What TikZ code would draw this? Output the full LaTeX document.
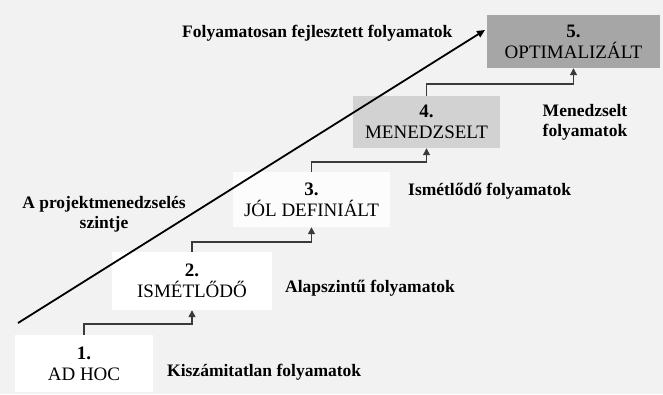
\documentclass[tikz,border=0pt]{standalone}
\usepackage{fontspec}
\setmainfont{Liberation Serif}
\usetikzlibrary{arrows.meta}
\definecolor{pagebg}{HTML}{F2F2F2}
\definecolor{lvlwhite}{HTML}{FFFFFF}
\definecolor{lvllight}{HTML}{FCFCFC}
\definecolor{lvlmid}{HTML}{D2D2D2}
\definecolor{lvldark}{HTML}{A6A6A6}
\definecolor{connline}{HTML}{3A3A3A}
\begin{document}
\begin{tikzpicture}[x=1pt,y=-1pt,
  level/.style={inner sep=0pt, align=center, text=black,
    font=\fontsize{19}{21}\selectfont},
  lbl/.style={inner sep=0pt, align=center, text=black,
    font=\fontsize{17.5}{20}\selectfont\bfseries},
  conn/.style={draw=connline, line width=1.4pt,
    -{Triangle[length=7pt,width=7pt]}},
  diag/.style={draw=black, line width=1.8pt,
    -{Triangle[length=8pt,width=7pt]}}]
  % page background and frame
  \fill[pagebg] (0,0) rectangle (663,394);
  \useasboundingbox (0,0) rectangle (663,394);

  % maturity levels
  \node[level, fill=lvlwhite, minimum width=138pt, minimum height=57pt]
    (l1) at (84,363.5) {\textbf{1.}\\AD HOC};
  \node[level, fill=lvlwhite, minimum width=160pt, minimum height=58pt]
    (l2) at (192,281) {\textbf{2.}\\ISMÉTLŐDŐ};
  \node[level, fill=lvllight, minimum width=157pt, minimum height=55pt]
    (l3) at (311.5,199.5) {\textbf{3.}\\JÓL DEFINIÁLT};
  \node[level, fill=lvlmid, minimum width=147pt, minimum height=52pt]
    (l4) at (426.5,122) {\textbf{4.}\\MENEDZSELT};
  \node[level, fill=lvldark, minimum width=173pt, minimum height=53pt]
    (l5) at (573.5,41.5) {\textbf{5.}\\OPTIMALIZÁLT};

  % step connectors between levels
  \draw[conn] (l1.north) -- ++(0,-11) -| (l2.south);
  \draw[conn] (l2.north) -- ++(0,-10) -| (l3.south);
  \draw[conn] (l3.north) -- ++(0,-10) -| (l4.south);
  \draw[conn] (l4.north) -- ++(0,-12) -| (l5.south);

  % rising project management level
  \coordinate (rise) at (18,323);
  \coordinate (top) at (485,30);
  \draw[diag] (rise) -- (top);

  % process descriptions
  \node[lbl, anchor=west] (d5) at (182,33) {Folyamatosan fejlesztett folyamatok};
  \node[lbl] (d4) at (585,122) {Menedzselt\\folyamatok};
  \node[lbl, anchor=west] (d3) at (408,191) {Ismétlődő folyamatok};
  \node[lbl, anchor=west] (d2) at (285,288) {Alapszintű folyamatok};
  \node[lbl, anchor=west] (d1) at (167,372) {Kiszámitatlan folyamatok};
  \node[lbl] (axis) at (104,214) {A projektmenedzselés\\szintje};
\end{tikzpicture}
\end{document}
